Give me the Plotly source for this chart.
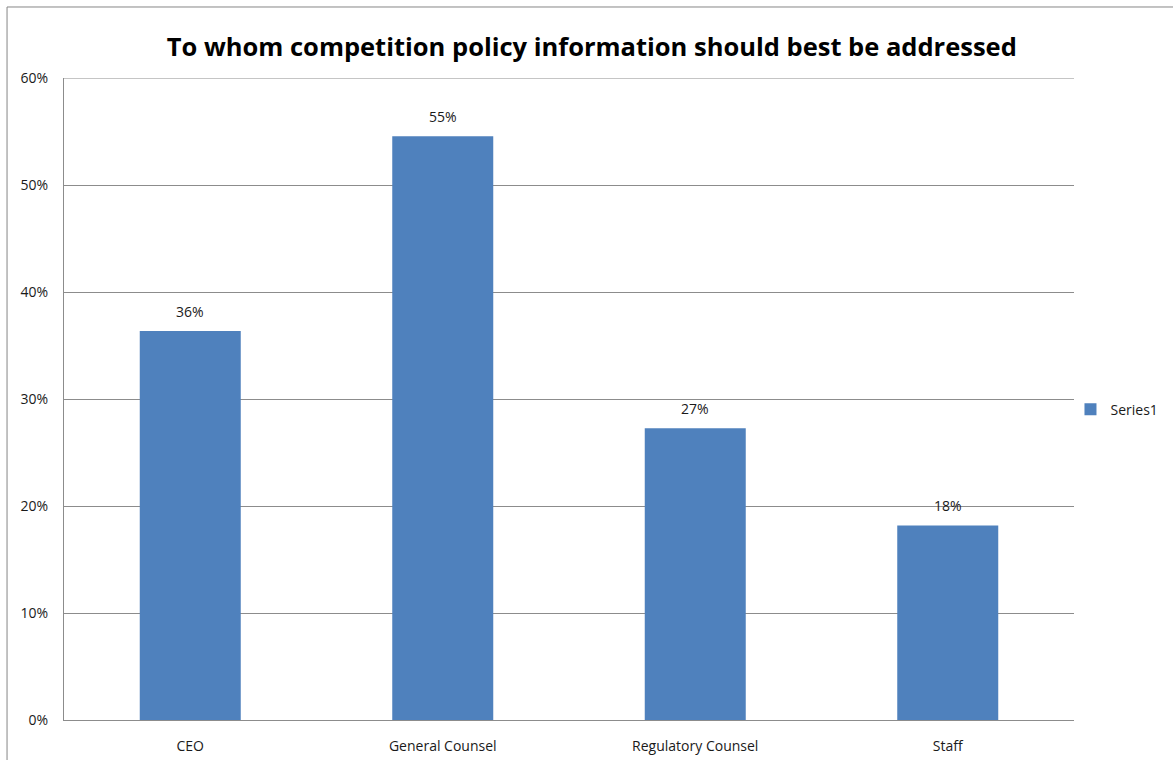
import plotly.graph_objects as go

categories = ["CEO", "General Counsel", "Regulatory Counsel", "Staff"]
shares = [4 / 11, 6 / 11, 3 / 11, 2 / 11]
value_labels = ["36%", "55%", "27%", "18%"]
y_ticks = [0, 0.1, 0.2, 0.3, 0.4, 0.5, 0.6]
y_tick_labels = ["0%", "10%", "20%", "30%", "40%", "50%", "60%"]

FONT = "Open Sans, Liberation Sans, sans-serif"
GRID = "#8c8c8c"

fig = go.Figure()
fig.add_trace(go.Bar(
    x=categories,
    y=shares,
    name="Series1",
    marker=dict(color="#4F81BD", line=dict(width=0)),
    width=0.4,
))

# value labels sitting a little above each bar top
for cat, val, lab in zip(categories, shares, value_labels):
    fig.add_annotation(
        x=cat, y=val, text=lab, showarrow=False,
        yanchor="bottom", yshift=8,
        font=dict(size=14, color="#1a1a1a", family=FONT),
    )

fig.update_layout(
    width=1173,
    height=760,
    margin=dict(l=64, r=99, t=78, b=40, autoexpand=False),
    paper_bgcolor="white",
    plot_bgcolor="white",
    font=dict(family=FONT, size=14, color="#1a1a1a"),
    title=dict(
        text="<b>To whom competition policy information should best be addressed</b>",
        x=0.5045, xanchor="center", y=0.938, yanchor="middle",
        font=dict(size=25.5, color="black", family=FONT),
    ),
    showlegend=True,
    legend=dict(
        xref="container", yref="container",
        x=0.9126, xanchor="left", y=0.461, yanchor="middle",
        font=dict(size=14, color="#1a1a1a"),
        itemwidth=30,
        bgcolor="rgba(0,0,0,0)",
    ),
    xaxis=dict(
        showline=True, linecolor=GRID, linewidth=1,
        showgrid=False, ticks="", tickfont=dict(size=14),
        ticklabelstandoff=13,
    ),
    yaxis=dict(
        range=[0, 0.6], tickvals=y_ticks, ticktext=y_tick_labels,
        showgrid=True, gridcolor=GRID, gridwidth=1,
        showline=True, linecolor=GRID, linewidth=1,
        zeroline=False, ticks="", tickfont=dict(size=14),
        ticklabelstandoff=12,
    ),
    shapes=[
        dict(
            type="rect", xref="paper", yref="paper",
            x0=-0.0564, x1=1.3, y0=-0.2, y1=1.1106,
            line=dict(color="#868686", width=1), fillcolor="rgba(0,0,0,0)",
            layer="below",
        ),
        dict(
            type="line", xref="paper", yref="y",
            x0=0, x1=1, y0=0.6, y1=0.6,
            line=dict(color=GRID, width=1), layer="below",
        ),
    ],
)

fig.write_html("out.html")
